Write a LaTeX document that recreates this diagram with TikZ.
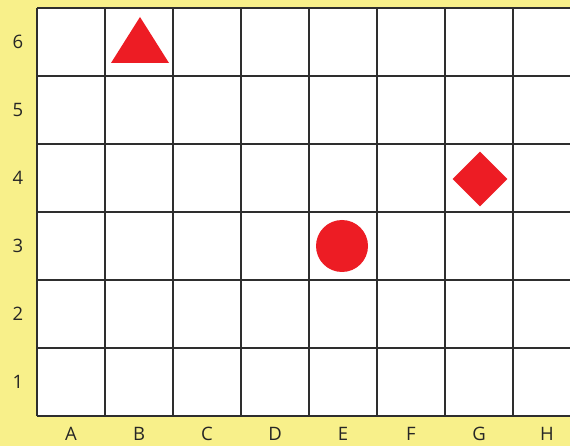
\documentclass[tikz,border=0pt]{standalone}
\usepackage{fontspec}
\setmainfont{Open Sans}
\usetikzlibrary{shapes.geometric}
\definecolor{boardyellow}{HTML}{F8F08A}
\definecolor{shapered}{HTML}{ED1C24}
\definecolor{gridgray}{HTML}{2E2E2E}

\begin{document}
\begin{tikzpicture}[x=1pt, y=-1pt, every node/.style={font=\fontsize{18.5}{20}\selectfont, text=black!85},
  gridline/.style={gridgray, line width=1.5pt},
  redshape/.style={fill=shapered, draw=none, inner sep=0pt}]
  \useasboundingbox (0,0) rectangle (570,446);
  \fill[boardyellow] (0,0) rectangle (570,446);
  \clip (0,0) rectangle (570,446);
  \fill[white] (37,8) rectangle (581,416);
  % grid lines
  \foreach \i in {0,...,8}
    \draw[gridline] (37+68*\i,8) -- (37+68*\i,416);
  \foreach \j in {0,...,6}
    \draw[gridline] (37,8+68*\j) -- (581,8+68*\j);
  % labels
  \foreach \c [count=\i] in {A,B,C,D,E,F,G,H}
    \node (col\c) at (71+68*\i-68,434) {\c};
  \foreach \r in {1,...,6}
    \node (row\r) at (18,450-68*\r) {\r};
  % shapes
  \fill[shapered] (111,63) -- (140,17) -- (169,63) -- cycle;
  \node[redshape, circle, minimum size=52] (disc) at (342,246) {};
  \node[redshape, diamond, minimum width=55, minimum height=55] (rhomb) at (480,179) {};
\end{tikzpicture}
\end{document}
